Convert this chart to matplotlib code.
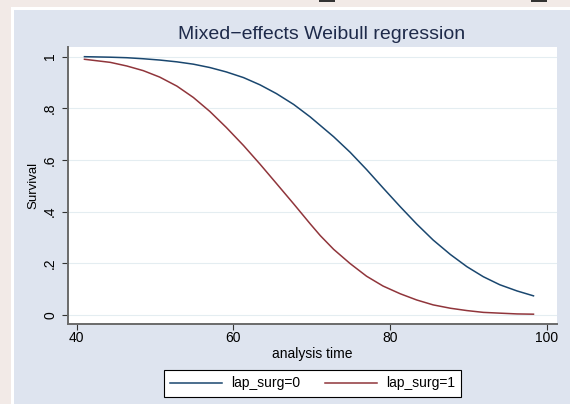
import matplotlib
matplotlib.use("Agg")
import matplotlib.pyplot as plt
from matplotlib.patches import Rectangle

plt.rcParams['font.family'] = ['Liberation Sans', 'DejaVu Sans']

# values
time_0 = [41.0, 44.3, 46.4, 48.5, 50.6, 52.8, 54.9, 57.0, 59.1, 61.3, 63.4, 65.5, 67.7,
          69.8, 72.8, 74.9, 77.0, 79.1, 81.3, 83.4, 85.5, 87.7, 89.8, 91.9, 94.0,
          96.2, 98.3]
surv_0 = [1.000, 0.998, 0.996, 0.992, 0.987, 0.980, 0.971, 0.958, 0.941, 0.919, 0.891,
          0.857, 0.815, 0.767, 0.690, 0.630, 0.563, 0.492, 0.419, 0.352, 0.290, 0.234,
          0.187, 0.148, 0.117, 0.093, 0.074]
time_1 = [41.0, 44.3, 46.4, 48.5, 50.6, 52.8, 54.9, 57.0, 59.1, 61.3, 63.4, 65.5, 67.7,
          69.8, 71.1, 72.8, 74.9, 77.0, 79.1, 81.3, 83.4, 85.5, 87.7, 89.8, 91.9,
          94.0, 96.2, 98.3]
surv_1 = [0.990, 0.978, 0.964, 0.946, 0.921, 0.886, 0.842, 0.788, 0.726, 0.656, 0.584,
          0.509, 0.430, 0.353, 0.307, 0.254, 0.199, 0.150, 0.112, 0.082, 0.058, 0.039,
          0.026, 0.017, 0.010, 0.007, 0.004, 0.003]

series_labels = ['lap_surg=0', 'lap_surg=1']
x_ticks = [40, 60, 80, 100]
y_ticks = [0, 0.2, 0.4, 0.6, 0.8, 1]
y_tick_labels = ['0', '.2', '.4', '.6', '.8', '1']

W, H = 570, 404
fig = plt.figure(figsize=(W / 100, H / 100), dpi=100)
fig.patch.set_facecolor('#F2EAE7')

# ==================== background panels ====================
fig.patches.append(Rectangle((11 / W, 0), 1, 1 - 7 / H, transform=fig.transFigure,
                             facecolor='white', edgecolor='none', zorder=-3))
fig.patches.append(Rectangle((14 / W, 0), 1, 1 - 10 / H, transform=fig.transFigure,
                             facecolor='#DEE4EF', edgecolor='none', zorder=-2))
for x0 in (319, 531):
    fig.patches.append(Rectangle((x0 / W, 1 - 2 / H), 16 / W, 2 / H, transform=fig.transFigure,
                                 facecolor='#333333', edgecolor='none', zorder=-1))

# ==================== plot ====================
ax = fig.add_axes([68 / W, 1 - 324 / H, (557 - 68) / W, (324 - 47) / H])
ax.set_facecolor('white')
ax.plot(time_0, surv_0, color='#1A476F', lw=1.1, label=series_labels[0])
ax.plot(time_1, surv_1, color='#90353B', lw=1.1, label=series_labels[1])

ax.set_xlim(38.9, 101.3)
ax.set_ylim(-0.035, 1.0375)
ax.set_xticks(x_ticks)
ax.set_yticks(y_ticks)
ax.set_yticklabels(y_tick_labels)
ax.grid(True, axis='y', color='#E4EDF1', lw=0.8)
ax.set_axisbelow(True)

for side in ('top', 'right'):
    ax.spines[side].set_visible(False)
for side in ('left', 'bottom'):
    ax.spines[side].set_color('#6A6A6A')
    ax.spines[side].set_linewidth(1.4)

ax.tick_params(axis='both', direction='out', length=4.3, width=0.8, color='#333333',
               labelsize=10, labelcolor='black')
ax.tick_params(axis='x', pad=0.5)
ax.tick_params(axis='y', pad=3.5)
plt.setp(ax.get_yticklabels(), rotation=90, va='center')

ax.set_xlabel('analysis time', fontsize=10)
ax.xaxis.set_label_coords(0.5, -0.083)
ax.set_ylabel('Survival', fontsize=9.5)
ax.yaxis.set_label_coords(-0.059, 0.5)

fig.text(322 / W, 1 - 39.3 / H, 'Mixed\u2212effects Weibull regression', ha='center',
         va='baseline', fontsize=14, color='#1E2A4A')

# ==================== legend ====================
leg = fig.legend(loc='center', bbox_to_anchor=(312.5 / W, 1 - 383.5 / H), ncol=2,
                 fontsize=10, frameon=True, fancybox=False, handlelength=3.74,
                 handletextpad=0.65, columnspacing=1.8, borderpad=0.45)
leg.get_frame().set_edgecolor('black')
leg.get_frame().set_linewidth(0.8)
leg.get_frame().set_facecolor('white')
leg.get_frame().set_alpha(1)

fig.savefig('out.png', dpi=100, facecolor=fig.get_facecolor())
